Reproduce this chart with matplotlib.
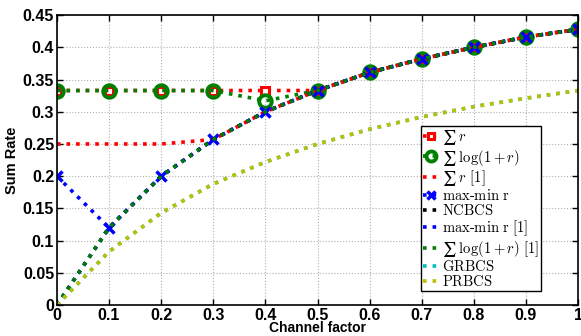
import matplotlib
matplotlib.use('Agg')
import matplotlib.pyplot as plt
import numpy as np

plt.rcParams['mathtext.fontset'] = 'cm'

x = [0, 0.1, 0.2, 0.3, 0.4, 0.5, 0.6, 0.7, 0.8, 0.9, 1.0]

sum_r = [0.333, 0.333, 0.333, 0.333, 0.333, 0.333, 0.361, 0.382, 0.400, 0.416, 0.428]
sum_log = [0.333, 0.333, 0.333, 0.333, 0.317, 0.333, 0.361, 0.382, 0.400, 0.416, 0.428]
sum_r_ref = [0.25, 0.25, 0.25, 0.257, 0.300, 0.333, 0.361, 0.382, 0.400, 0.416, 0.428]
maxmin = [0.2, 0.12, 0.2, 0.257, 0.300, 0.333, 0.361, 0.382, 0.400, 0.416, 0.428]
ncbcs = [0, 0.12, 0.2, 0.257, 0.300, 0.333, 0.361, 0.382, 0.400, 0.416, 0.428]
maxmin_ref = [0, 0.12, 0.2, 0.257, 0.300, 0.333, 0.361, 0.382, 0.400, 0.416, 0.428]
sum_log_ref = [0, 0.12, 0.2, 0.257, 0.300, 0.333, 0.361, 0.382, 0.400, 0.416, 0.428]
grbcs = [0, 0.083, 0.143, 0.188, 0.222, 0.25, 0.273, 0.292, 0.308, 0.321, 0.333]
prbcs = [0, 0.083, 0.143, 0.188, 0.222, 0.25, 0.273, 0.292, 0.308, 0.321, 0.333]

labels = [r'$∑\; r$', r'$∑\; \log(1+r)$', r'$∑\; r\ [1]$', r'$\mathrm{max\text{-}min\ r}$',
          r'$\mathrm{NCBCS}$', r'$\mathrm{max\text{-}min\ r\ [1]}$', r'$∑\; \log(1+r)\ [1]$',
          r'$\mathrm{GRBCS}$', r'$\mathrm{PRBCS}$']

green = (0, 0.5, 0)
olive = (0.75, 0.75, 0)

fig = plt.figure(figsize=(5.81, 3.36), dpi=100)
ax = fig.add_axes([0.098, 0.092, 0.897, 0.863])

lw = 2.6
ax.plot(x, sum_r, ':', color='r', lw=lw, marker='s', ms=5.5, mfc='w', mec='r', mew=2.2, label=labels[0])
ax.plot(x, sum_log, ':', color=green, lw=lw, marker='o', ms=9, mfc='none', mec=green, mew=2.8, label=labels[1])
ax.plot(x, sum_r_ref, ':', color='r', lw=lw, label=labels[2])
ax.plot(x, maxmin, ':', color='b', lw=lw, marker='x', ms=6.5, mew=2.5, label=labels[3])
ax.plot(x, ncbcs, ':', color='k', lw=lw, label=labels[4])
ax.plot(x, maxmin_ref, ':', color='b', lw=lw, label=labels[5])
ax.plot(x, sum_log_ref, ':', color=green, lw=lw, label=labels[6])
ax.plot(x, grbcs, ':', color='c', lw=lw, label=labels[7])
ax.plot(x, prbcs, ':', color=olive, lw=lw, label=labels[8])

ax.set_xlim(0, 1)
ax.set_ylim(0, 0.45)
xt = np.arange(0, 1.01, 0.1)
yt = np.arange(0, 0.451, 0.05)
ax.set_xticks(xt)
ax.set_yticks(yt)
ax.set_xticklabels(['%g' % round(v, 2) for v in xt], fontsize=11.5, fontweight='bold', family='Liberation Sans')
ax.set_yticklabels(['%g' % round(v, 2) for v in yt], fontsize=11.5, fontweight='bold', family='Liberation Sans')
ax.tick_params(direction='in', top=True, right=True, length=4, width=1, pad=2)
ax.grid(True, linestyle=':', color='#b0b0b0', lw=0.8)
for s in ax.spines.values():
    s.set_linewidth(1.2)

ax.set_xlabel('Channel factor', fontsize=10, fontweight='bold', family='Liberation Sans', labelpad=-1)
ax.set_ylabel('Sum Rate', fontsize=10.5, fontweight='bold', family='Liberation Sans', labelpad=3)

leg = ax.legend(loc='upper left', bbox_to_anchor=(0.699, 0.617), borderaxespad=0,
                fontsize=10.5, handlelength=1.1, handletextpad=0.15, labelspacing=0.02,
                borderpad=0.15, markerscale=0.8, fancybox=False, framealpha=1, edgecolor='k')
leg.get_frame().set_linewidth(1)

fig.savefig('out.png', dpi=100)
